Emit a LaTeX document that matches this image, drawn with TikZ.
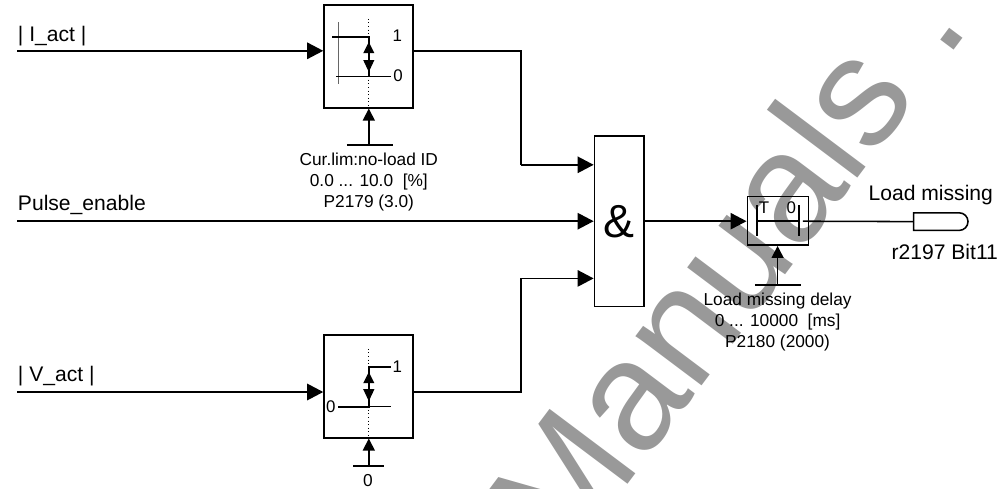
\documentclass[tikz,border=0pt]{standalone}
\usepackage{fontspec}
\setmainfont{Liberation Sans}
\usetikzlibrary{arrows.meta,shapes.misc}
\begin{document}
\begin{tikzpicture}[
  >={Triangle[length=0.4cm,width=0.41cm]},
  line width=1.1pt,
  blockbox/.style={draw,inner sep=0pt,fill=none},
  signallabel/.style={inner sep=0pt,font=\fontsize{15}{18}\selectfont},
  paramlabel/.style={inner sep=0pt,align=center,font=\fontsize{12.3}{15}\selectfont},
  levellabel/.style={inner sep=0pt,font=\fontsize{12}{14}\selectfont},
  paramarrow/.style={-{Triangle[length=0.3cm,width=0.3cm]}},
  levelarrow/.style={{Triangle[length=0.28cm,width=0.27cm]}-{Triangle[length=0.3cm,width=0.27cm]}},
  thinline/.style={line width=0.55pt}
]
  \useasboundingbox (0,0) rectangle (25.2,-12.2);
  \begin{scope}
    \clip (0,0) rectangle (25.2,-12.2);
    \node[rotate=53.1,anchor=base east,inner sep=0pt,text=black!40,font=\fontsize{111}{111}\selectfont] (watermark) at (24.305,-0.6575) {Manuals .};
  \end{scope}

  % blocks
  \node[blockbox,minimum width=2.22cm,minimum height=2.57cm] (cmpI) at (9.21,-1.41) {};
  \node[blockbox,minimum width=2.22cm,minimum height=2.57cm] (cmpV) at (9.21,-9.66) {};
  \node[blockbox,minimum width=1.24cm,minimum height=4.27cm,font=\fontsize{33}{33}\selectfont] (andgate) at (15.48,-5.53) {\&};
  \node[blockbox,minimum width=1.525cm,minimum height=1.22cm] (timer) at (19.445,-5.52) {};
  \node[draw,rounded rectangle,rounded rectangle west arc=none,inner sep=0pt,minimum width=1.36cm,minimum height=0.44cm] (bitout) at (23.52,-5.54) {};

  % signals
  \coordinate (inI) at (0.43,-1.27);
  \coordinate (inP) at (0.43,-5.53);
  \coordinate (inV) at (0.43,-9.8);
  \coordinate (busI) at (13.02,-4.12);
  \coordinate (busV) at (13.02,-6.96);
  \node[signallabel,anchor=west] (labI) at (0.43,-0.91) {| I\_act |};
  \node[signallabel,anchor=west] (labP) at (0.43,-5.12) {Pulse\_enable};
  \node[signallabel,anchor=west] (labV) at (0.43,-9.41) {| V\_act |};
  \draw[->] (inI) -- (inI -| cmpI.west);
  \draw[->] (inP) -- (inP -| andgate.west);
  \draw[->] (inV) -- (inV -| cmpV.west);
  \draw (inI -| cmpI.east) -| (busI);
  \draw (inV -| cmpV.east) -| (busV);
  \draw[->] (busI) -- (busI -| andgate.west);
  \draw[->] (busV) -- (busV -| andgate.west);
  \draw[->] (andgate.east |- inP) -- (inP -| timer.west);
  \draw (20.07,-5.53) -- (bitout.west);
  \node[signallabel] (labout) at (23.27,-4.88) {Load missing};
  \node[signallabel] (labbit) at (23.62,-6.31) {r2197 Bit11};

  % upper threshold
  \draw[thinline,dotted] (9.22,-0.47) -- (9.22,-2.68);
  \draw[thinline,black!60] (8.47,-0.55) -- (8.47,-2.1);
  \draw (8.3,-0.92) -- (9.22,-0.92) -- (9.22,-1.91) -- (9.77,-1.91);
  \draw[thinline] (8.4,-1.91) -- (9.22,-1.91);
  \draw[levelarrow] (9.22,-1.05) -- (9.22,-1.8);
  \node[levellabel] (oneI) at (9.93,-0.9) {1};
  \node[levellabel] (zeroI) at (9.95,-1.9) {0};
  \coordinate (setI) at (9.22,-3.62);
  \draw (8.67,-3.62) -- (9.83,-3.62);
  \draw[paramarrow] (setI) -- (setI |- cmpI.south);
  \node[paramlabel] (parI) at (9.22,-4.55) {Cur.lim:no-load ID\\0.0 ... 10.0\ \ [\%]\\P2179 (3.0)};

  % lower threshold
  \draw[thinline,dotted] (9.22,-8.72) -- (9.22,-10.92);
  \draw (9.77,-9.17) -- (9.22,-9.17) -- (9.22,-10.17) -- (8.45,-10.17);
  \draw[thinline] (9.22,-10.17) -- (9.77,-10.17);
  \draw[levelarrow] (9.22,-9.3) -- (9.22,-10.03);
  \node[levellabel] (oneV) at (9.93,-9.17) {1};
  \node[levellabel] (zeroV) at (8.27,-10.16) {0};
  \coordinate (setV) at (9.22,-11.65);
  \draw (8.83,-11.65) -- (9.6,-11.65);
  \draw[paramarrow] (setV) -- (setV |- cmpV.south);
  \node[paramlabel] (parV) at (9.2,-12.02) {0};

  % delay
  \draw (18.92,-5.13) -- (18.92,-5.9);
  \draw (19.97,-5.13) -- (19.97,-5.9);
  \draw (18.92,-5.53) -- (19.97,-5.53);
  \node[levellabel] (labT) at (19.1,-5.2) {T};
  \node[levellabel] (zeroT) at (19.78,-5.2) {0};
  \coordinate (setT) at (19.44,-7.12);
  \draw (18.87,-7.12) -- (20.03,-7.12);
  \draw[paramarrow] (setT) -- (setT |- timer.south);
  \node[paramlabel] (parT) at (19.44,-8.05) {Load missing delay\\0 ... 10000\ \ [ms]\\P2180 (2000)};
\end{tikzpicture}
\end{document}
